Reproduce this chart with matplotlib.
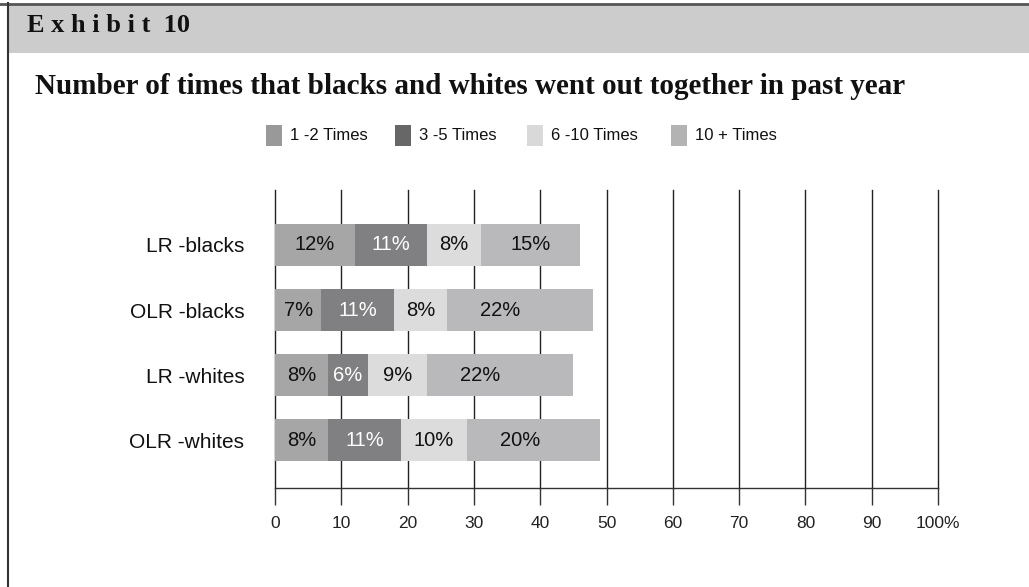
import numpy as np
import matplotlib
matplotlib.use("Agg")
import matplotlib.pyplot as plt
from matplotlib.patches import Rectangle
from matplotlib.lines import Line2D

groups = ["LR -blacks", "OLR -blacks", "LR -whites", "OLR -whites"]
series_names = ["1 -2 Times", "3 -5 Times", "6 -10 Times", "10 + Times"]
v_1_2 = [12, 7, 8, 8]
v_3_5 = [11, 11, 6, 11]
v_6_10 = [8, 8, 9, 10]
v_10_plus = [15, 22, 22, 20]
x_ticks = [0, 10, 20, 30, 40, 50, 60, 70, 80, 90, 100]
x_tick_labels = ["0", "10", "20", "30", "40", "50", "60", "70", "80", "90", "100%"]

bar_colors = ["#a6a6a7", "#808082", "#dcdcdd", "#b9b9bb"]
legend_colors = ["#999999", "#676767", "#d9d9d9", "#b3b3b3"]
text_colors = ["#111111", "white", "#111111", "#111111"]

sans = "Liberation Sans"
serif = "Liberation Serif"

W, H = 1029, 587
fig = plt.figure(figsize=(W / 100, H / 100), dpi=100)

def fx(px):
    return px / W

def fy(py):
    return 1 - py / H

# header band and frame lines
fig.add_artist(Rectangle((fx(8), fy(53)), 1, 49 / H, transform=fig.transFigure,
                         facecolor="#cccccc", edgecolor="none"))
fig.add_artist(Line2D([0, 1], [fy(3.5)] * 2, transform=fig.transFigure,
                      color="#555555", lw=2))
fig.add_artist(Line2D([fx(8)] * 2, [0, fy(3)], transform=fig.transFigure,
                      color="#333333", lw=1.5))

fig.text(fx(27), fy(32), "E x h i b i t  10", family=serif, weight="bold",
         fontsize=19, va="baseline", ha="left", color="#111111")
fig.text(fx(35), fy(94),
         "Number of times that blacks and whites went out together in past year",
         family=serif, weight="bold", fontsize=21, va="baseline", ha="left",
         color="#111111")

# legend row
legend_x = [266, 395, 527, 671]
for name, col, lx in zip(series_names, legend_colors, legend_x):
    fig.add_artist(Rectangle((fx(lx), fy(146)), 16 / W, 21 / H,
                             transform=fig.transFigure, facecolor=col,
                             edgecolor="none"))
    fig.text(fx(lx + 24), fy(136), name, family=sans, fontsize=12,
             va="center", ha="left", color="#111111")

ax = fig.add_axes([fx(275), fy(488), (938 - 275) / W, (488 - 190) / H])

data = np.array([v_1_2, v_3_5, v_6_10, v_10_plus], dtype=float)
y = np.arange(len(groups))
left = np.zeros(len(groups))
for i, vals in enumerate(data):
    ax.barh(y, vals, left=left, height=0.646, color=bar_colors[i], zorder=2)
    for j, v in enumerate(vals):
        # label sits in the middle of the segment, capped for wide segments
        xc = left[j] + min(v, 16) / 2
        ax.text(xc, y[j], f"{int(v)}%", ha="center", va="center",
                family=sans, fontsize=14.5, color=text_colors[i], zorder=3)
    left += vals

ax.set_xlim(0, 100)
ax.set_ylim(3.738, -0.846)
ax.set_xticks(x_ticks)
ax.set_xticklabels(x_tick_labels, family=sans, fontsize=12.5, color="#222222")
ax.set_yticks(y)
ax.set_yticklabels(groups, family=sans, fontsize=15, color="#111111")
ax.tick_params(axis="y", length=0, pad=22)
ax.tick_params(axis="x", direction="out", length=12, width=1, color="#333333",
               pad=8)
ax.grid(axis="x", color="#222222", lw=1, zorder=1)
for gl in ax.get_xgridlines():
    gl.set_clip_on(False)
for s in ["top", "right", "left"]:
    ax.spines[s].set_visible(False)
ax.spines["bottom"].set_color("#333333")
ax.spines["bottom"].set_linewidth(1)
ax.set_axisbelow(True)

fig.savefig("out.png", dpi=100)
